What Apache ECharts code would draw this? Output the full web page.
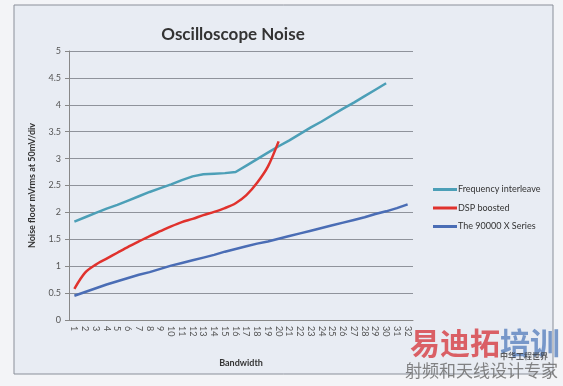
<!DOCTYPE html>
<html><head><meta charset="utf-8">
<script src="https://cdn.jsdelivr.net/npm/echarts@6/dist/echarts.min.js"></script>
<style>html,body{margin:0;padding:0;background:#f3f4f7}#c{width:563px;height:386px}</style>
</head><body><div id="c"></div>
<script>
var categories = [];
for (var i = 1; i <= 32; i++) categories.push(String(i));
var freqInterleave = [1.83,1.91,1.99,2.07,2.14,2.22,2.30,2.38,2.45,2.52,2.60,2.67,2.71,2.72,2.73,2.75,2.87,2.99,3.11,3.23,3.34,3.46,3.58,3.69,3.81,3.93,4.04,4.16,4.28,4.40];
var dspBoosted = [0.58,0.88,1.03,1.14,1.25,1.36,1.46,1.56,1.65,1.74,1.82,1.88,1.95,2.01,2.08,2.17,2.32,2.55,2.85,3.32];
var series90000X = [0.45,0.52,0.59,0.66,0.72,0.78,0.84,0.89,0.95,1.01,1.06,1.11,1.16,1.21,1.27,1.32,1.37,1.42,1.46,1.51,1.56,1.61,1.66,1.71,1.76,1.81,1.86,1.91,1.97,2.02,2.08,2.15];
var yTicks = [0,0.5,1,1.5,2,2.5,3,3.5,4,4.5,5];

var font = 'Lato, "Open Sans", sans-serif';
var chart = echarts.init(document.getElementById('c'), null, {renderer:'canvas'});
chart.setOption({
  animation:false,
  backgroundColor:'#f3f4f7',
  graphic:[
    {type:'rect', z:-10, shape:{x:14,y:5,width:539,height:369}, style:{fill:'#e8ecf3', stroke:'#8a8f99', lineWidth:1}},
    {type:'text', z:10, left:410, top:328, style:{text:'易迪拓', fill:'rgba(215,70,75,0.85)', font:'bold 30px "Noto Sans CJK SC"'}},
    {type:'text', z:10, left:500, top:328, style:{text:'培训', fill:'rgba(90,130,190,0.8)', font:'bold 30px "Noto Sans CJK SC"'}},
    {type:'text', z:10, left:500, top:352, style:{text:'中华工程世界', fill:'rgba(60,60,60,0.8)', font:'bold 8px "Noto Sans CJK SC"'}},
    {type:'text', z:10, left:405, top:362, style:{text:'射频和天线设计专家', fill:'rgba(110,110,110,0.85)', font:'17px "Noto Sans CJK SC"'}}
  ],
  title:{text:'Oscilloscope Noise', left:228, top:21, textAlign:'center',
    textStyle:{fontFamily:font, fontSize:17, fontWeight:'bold', color:'#333'}},
  legend:{orient:'vertical', left:428, top:179, itemWidth:24, itemHeight:3, itemGap:7.5, icon:'rect',
    textStyle:{fontFamily:font, fontSize:9, color:'#333', padding:[0,0,0,-4], lineHeight:11},
    data:['Frequency interleave','DSP boosted','The 90000 X Series']},
  grid:{left:69, right:150, top:51, bottom:66},
  xAxis:{type:'category', data:categories, boundaryGap:true,
    name:'Bandwidth', nameLocation:'middle', nameGap:39,
    nameTextStyle:{fontFamily:font, fontSize:9, fontWeight:'bold', color:'#333'},
    axisLine:{lineStyle:{color:'#888'}}, axisTick:{show:false},
    axisLabel:{rotate:-90, interval:0, fontFamily:font, fontSize:9, color:'#555', margin:6}},
  yAxis:{type:'value', min:0, max:5, interval:0.5,
    name:'Noise floor mVrms at 50mV/div', nameLocation:'middle', nameGap:32, nameRotate:90,
    nameTextStyle:{fontFamily:font, fontSize:9, fontWeight:'bold', color:'#333'},
    axisLine:{show:true, lineStyle:{color:'#888'}}, axisTick:{show:true, length:4, lineStyle:{color:'#888'}},
    splitLine:{lineStyle:{color:'#8f939b', width:1}},
    axisLabel:{fontFamily:font, fontSize:9, color:'#555', margin:8,
      formatter:function(v){return yTicks.indexOf(v)>=0 ? String(v) : '';}}},
  series:[
    {name:'Frequency interleave', type:'line', data:freqInterleave, showSymbol:false, symbol:'none',
      itemStyle:{color:'#4c9fb7'}, lineStyle:{color:'#4c9fb7', width:2.5}},
    {name:'DSP boosted', type:'line', data:dspBoosted, showSymbol:false, symbol:'none', smooth:0.3,
      itemStyle:{color:'#e0322d'}, lineStyle:{color:'#e0322d', width:2.5}},
    {name:'The 90000 X Series', type:'line', data:series90000X, showSymbol:false, symbol:'none',
      itemStyle:{color:'#4a6db5'}, lineStyle:{color:'#4a6db5', width:2.5}}
  ]
});
</script></body></html>
